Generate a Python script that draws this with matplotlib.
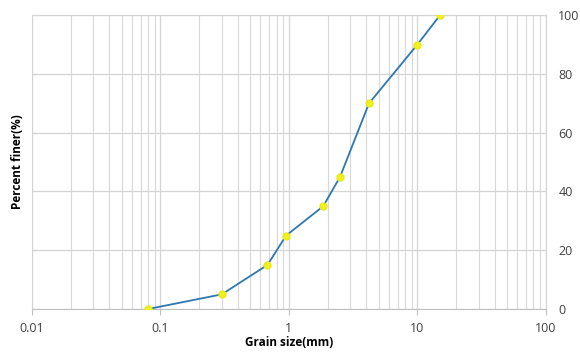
import matplotlib
matplotlib.use('Agg')
import matplotlib.pyplot as plt
import matplotlib.ticker as mticker

# Data
grain_size = [0.08, 0.3, 0.68, 0.95, 1.85, 2.5, 4.2, 10, 15]
percent_finer = [0, 5, 15, 25, 35, 45, 70, 90, 100]

x_ticks = [0.01, 0.1, 1, 10, 100]
x_labels = ['0.01', '0.1', '1', '10', '100']
y_ticks = [0, 20, 40, 60, 80, 100]

plt.rcParams['font.family'] = ['Open Sans', 'DejaVu Sans']

fig = plt.figure(figsize=(5.8, 3.52), dpi=100)
ax = fig.add_axes([0.0552, 0.122, 0.886, 0.835])

ax.plot(grain_size, percent_finer, color='#2e78b0', linewidth=1.3,
        marker='o', markersize=5, markerfacecolor='#f2f21a',
        markeredgecolor='#e8e820', zorder=3)

ax.set_xscale('log')
ax.set_xlim(0.01, 100)
ax.set_ylim(0, 100)
ax.set_xticks(x_ticks)
ax.set_xticklabels(x_labels)
ax.xaxis.set_minor_locator(mticker.LogLocator(base=10, subs=range(2, 10)))
ax.xaxis.set_minor_formatter(mticker.NullFormatter())
ax.set_yticks(y_ticks)

ax.yaxis.tick_right()
ax.yaxis.set_label_position('left')

ax.grid(True, which='major', color='#d4d4d4', linewidth=0.9)
ax.grid(True, which='minor', axis='x', color='#d9d9d9', linewidth=0.8)

for side in ['top', 'right', 'left']:
    ax.spines[side].set_color('#d4d4d4')
ax.spines['bottom'].set_color('#bfbfbf')

ax.tick_params(axis='x', which='major', length=4, color='#bfbfbf',
               labelsize=9, labelcolor='#404040', pad=5)
ax.tick_params(axis='x', which='minor', length=0)
ax.tick_params(axis='y', length=0, labelsize=9, labelcolor='#404040', pad=9)

ax.set_xlabel('Grain size(mm)', fontsize=8.5, fontweight='bold', labelpad=1)
ax.set_ylabel('Percent finer(%)', fontsize=8.5, fontweight='bold', labelpad=6)

plt.savefig('out.png', dpi=100)
